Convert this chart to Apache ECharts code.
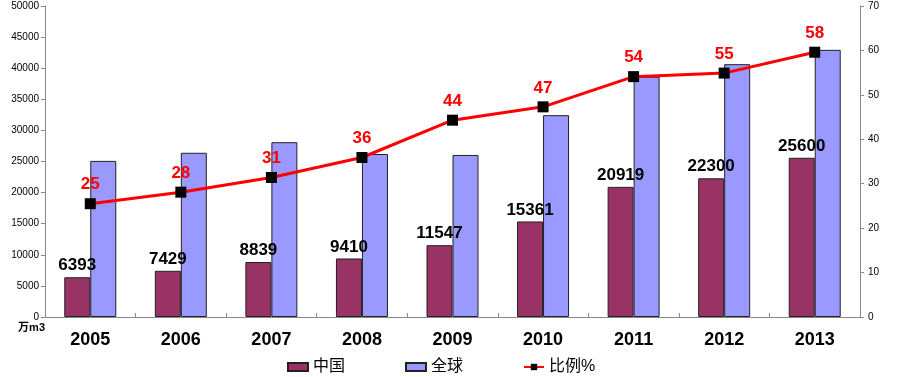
<!DOCTYPE html>
<html>
<head>
<meta charset="utf-8">
<script src="https://cdn.jsdelivr.net/npm/echarts@6/dist/echarts.min.js"></script>
<style>
  html, body { margin: 0; padding: 0; background: #fff; }
  #main { width: 903px; height: 377px; }
</style>
</head>
<body>
<div id="main"></div>
<script>
// 年份
const years = ['2005', '2006', '2007', '2008', '2009', '2010', '2011', '2012', '2013'];
// 中国 (万m3)
const chinaValues = [6393, 7429, 8839, 9410, 11547, 15361, 20919, 22300, 25600];
// 全球 (万m3)
const globalValues = [25100, 26400, 28100, 26200, 26050, 32450, 38650, 40650, 42950];
// 比例% 点位置 (右轴)
const ratioValues = [25.5, 28.1, 31.4, 35.9, 44.3, 47.3, 54.1, 54.9, 59.6];
// 比例% 标注文字
const ratioLabels = [25, 28, 31, 36, 44, 47, 54, 55, 58];

const chart = echarts.init(document.getElementById('main'));

const font = 'Arial, "Liberation Sans", "Noto Sans CJK SC", sans-serif';

const option = {
  animation: false,
  textStyle: { fontFamily: font },
  grid: { left: 45, right: 43, top: 6, bottom: 60 },
  legend: {
    top: 354,
    left: 282,
    itemGap: 60,
    itemWidth: 20,
    itemHeight: 8,
    textStyle: { fontSize: 16, color: '#000', fontFamily: font },
    data: [
      { name: '中国', icon: 'rect' },
      { name: '全球', icon: 'rect' },
      { name: '比例%' }
    ]
  },
  xAxis: {
    type: 'category',
    data: years,
    axisLine: { lineStyle: { color: '#888', width: 1 } },
    axisTick: { show: true, inside: true, length: 4, lineStyle: { color: '#888' } },
    axisLabel: { fontSize: 18, fontWeight: 'bold', color: '#000', margin: 14 }
  },
  yAxis: [
    {
      type: 'value',
      min: 0, max: 50000, interval: 5000,
      name: '万m3',
      nameLocation: 'start',
      nameGap: 5,
      nameTextStyle: { fontSize: 11, fontWeight: 'bold', color: '#000', align: 'right', verticalAlign: 'top' },
      axisLine: { show: true, lineStyle: { color: '#888' } },
      axisTick: { show: true, length: 4, lineStyle: { color: '#888' } },
      axisLabel: { fontSize: 10, color: '#000', margin: 6, formatter: v => String(v) },
      splitLine: { show: false }
    },
    {
      type: 'value',
      min: 0, max: 70, interval: 10,
      position: 'right',
      axisLine: { show: true, lineStyle: { color: '#888' } },
      axisTick: { show: true, length: 4, lineStyle: { color: '#888' } },
      axisLabel: { fontSize: 10, color: '#000', margin: 8 },
      splitLine: { show: false }
    }
  ],
  series: [
    {
      name: '中国',
      type: 'bar',
      data: chinaValues,
      barWidth: 26,
      barGap: '0%',
      itemStyle: { color: '#993366', borderColor: '#222', borderWidth: 1 },
      label: { show: true, position: 'top', distance: 3, fontSize: 17, fontWeight: 'bold', color: '#000' },
      z: 2
    },
    {
      name: '全球',
      type: 'bar',
      data: globalValues,
      barWidth: 26,
      barGap: '0%',
      itemStyle: { color: '#9999FF', borderColor: '#222', borderWidth: 1 },
      z: 2
    },
    {
      name: '比例%',
      type: 'line',
      yAxisIndex: 1,
      data: ratioValues,
      symbol: 'rect',
      symbolSize: 11,
      itemStyle: { color: '#000' },
      lineStyle: { color: '#FF0000', width: 3 },
      label: {
        show: true,
        position: 'top',
        distance: 5,
        fontSize: 17,
        fontWeight: 'bold',
        color: '#FF0000',
        formatter: p => ratioLabels[p.dataIndex]
      },
      z: 5
    }
  ]
};

chart.setOption(option);
</script>
</body>
</html>
